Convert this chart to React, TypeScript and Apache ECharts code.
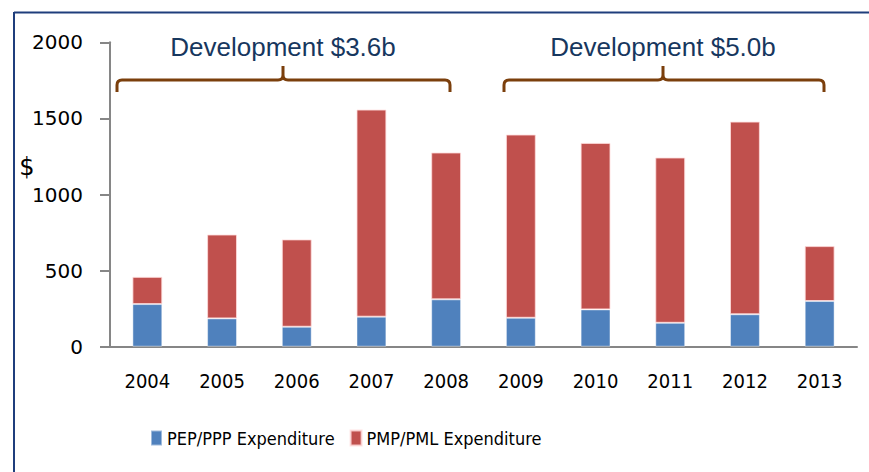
import React, { useEffect, useRef } from "react";
import * as echarts from "echarts";

const years = ["2004", "2005", "2006", "2007", "2008", "2009", "2010", "2011", "2012", "2013"];
const pepPpp = [280, 186, 131, 197, 311, 190, 245, 157, 213, 300];
const pmpPml = [179, 551, 574, 1361, 965, 1204, 1094, 1086, 1266, 361];
const yTicks = { min: 0, max: 2000, interval: 500 };
const braces = [
  { label: "Development $3.6b", x1: 117, x2: 450, xm: 283 },
  { label: "Development $5.0b", x1: 504, x2: 824, xm: 663 },
];

const condensed = "'DejaVu Sans Condensed', 'DejaVu Sans', sans-serif";

function bracePath(x1: number, x2: number, xm: number, y: number) {
  const r = 5;
  const drop = 12;
  const spike = 14;
  return [
    `M${x1} ${y + drop}`,
    `L${x1} ${y + r}`,
    `Q${x1} ${y} ${x1 + r} ${y}`,
    `L${xm - r} ${y}`,
    `Q${xm} ${y} ${xm} ${y - r}`,
    `L${xm} ${y - spike}`,
    `L${xm} ${y - r}`,
    `Q${xm} ${y} ${xm + r} ${y}`,
    `L${x2 - r} ${y}`,
    `Q${x2} ${y} ${x2} ${y + r}`,
    `L${x2} ${y + drop}`,
  ].join(" ");
}

export default function App() {
  const ref = useRef<HTMLDivElement>(null);
  useEffect(() => {
    document.body.style.margin = "0";
    if (!ref.current) return;
    const chart = echarts.init(ref.current, null, { renderer: "svg" });
    const braceGraphics: any[] = [];
    braces.forEach((b, i) => {
      const name = "brace" + i;
      echarts.graphic.registerShape(name, echarts.graphic.extendPath(bracePath(b.x1, b.x2, b.xm, 80), {}) as any);
      braceGraphics.push({
        type: name,
        x: 0,
        y: 0,
        style: { fill: "none", stroke: "#7B3F0C", lineWidth: 3 },
        silent: true,
      });
      braceGraphics.push({
        type: "text",
        x: b.xm,
        y: 47,
        style: {
          text: b.label,
          fill: "#17375E",
          font: "26px 'Liberation Sans', Arial, sans-serif",
          align: "center",
          verticalAlign: "middle",
        },
      });
    });
    chart.setOption({
      animation: false,
      backgroundColor: "#ffffff",
      grid: { left: 110, right: 12, top: 42.3, bottom: 125.3, containLabel: false },
      legend: {
        left: 145,
        top: 424,
        itemWidth: 11,
        itemHeight: 15,
        itemGap: 15,
        icon: "rect",
        textStyle: {
          fontFamily: condensed,
          fontSize: 18,
          color: "#000",
        },
        data: ["PEP/PPP Expenditure", "PMP/PML Expenditure"],
      },
      xAxis: {
        type: "category",
        data: years,
        axisLine: { lineStyle: { color: "#868686", width: 2 } },
        axisTick: { length: 8, lineStyle: { color: "#868686", width: 2 } },
        axisLabel: {
          margin: 24,
          fontFamily: condensed,
          fontSize: 20,
          color: "#000",
        },
      },
      yAxis: {
        type: "value",
        min: yTicks.min,
        max: yTicks.max,
        interval: yTicks.interval,
        splitLine: { show: false },
        axisLine: { show: true, lineStyle: { color: "#868686", width: 2 } },
        axisTick: { show: true, length: 10, lineStyle: { color: "#868686", width: 2 } },
        axisLabel: {
          margin: 27,
          fontFamily: "'DejaVu Sans', sans-serif",
          fontSize: 20,
          color: "#000",
          formatter: (v: number) => String(v),
        },
      },
      series: [
        {
          name: "PEP/PPP Expenditure",
          type: "bar",
          stack: "total",
          data: pepPpp,
          barWidth: "40%",
          itemStyle: { color: "#4F81BD", borderColor: "rgba(255,255,255,0.45)", borderWidth: 1 },
        },
        {
          name: "PMP/PML Expenditure",
          type: "bar",
          stack: "total",
          data: pmpPml,
          barWidth: "40%",
          itemStyle: { color: "#C0504D", borderColor: "rgba(255,220,220,0.8)", borderWidth: 1 },
        },
      ],
      graphic: [
        {
          type: "line",
          shape: { x1: 14, y1: 12.5, x2: 869, y2: 12.5 },
          style: { stroke: "#1F3E7C", lineWidth: 2 },
        },
        {
          type: "line",
          shape: { x1: 14, y1: 12, x2: 14, y2: 472 },
          style: { stroke: "#1F3E7C", lineWidth: 2 },
        },
        {
          type: "text",
          x: 27,
          y: 167,
          style: {
            text: "$",
            fill: "#000",
            font: "24px 'DejaVu Sans', sans-serif",
            align: "center",
            verticalAlign: "middle",
          },
        },
        ...braceGraphics,
      ],
    });
    return () => chart.dispose();
  }, []);
  return <div ref={ref} style={{ width: 869, height: 472 }} />;
}
